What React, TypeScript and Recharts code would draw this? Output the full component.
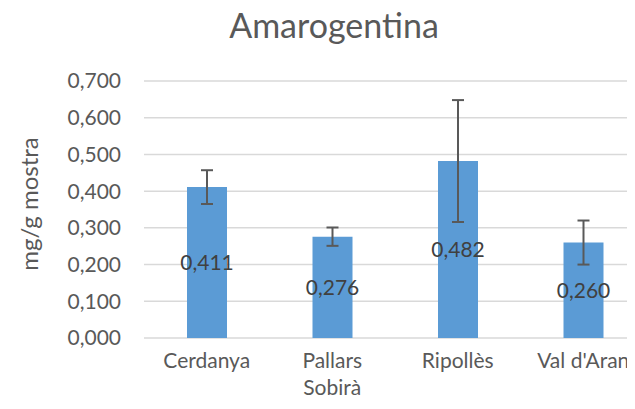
import React from 'react';
import { BarChart, Bar, XAxis, YAxis, CartesianGrid, ErrorBar, LabelList, Label } from 'recharts';

const categories = ['Cerdanya', 'Pallars Sobirà', 'Ripollès', "Val d'Aran"];
const values = [0.411, 0.276, 0.482, 0.26];
const errors = [0.046, 0.025, 0.166, 0.06];
const yTicks = [0, 0.1, 0.2, 0.3, 0.4, 0.5, 0.6, 0.7];
const title = 'Amarogentina';
const yLabel = 'mg/g mostra';

const data = categories.map((name, i) => ({ name, value: values[i], err: errors[i] }));

const FONT = 'Lato, "Open Sans", sans-serif';
const fmt = (v: number) => v.toFixed(3).replace('.', ',');

// wrap category labels that are too long for their slot (as the original does)
const wrapLabel = (s: string): string[] => {
  if (s.length <= 12) return [s];
  const i = s.lastIndexOf(' ');
  return i > 0 ? [s.slice(0, i), s.slice(i + 1)] : [s];
};

const XTick = (props: any) => {
  const { x, y, payload } = props;
  const lines = wrapLabel(String(payload.value));
  return (
    <text x={x} y={y + 30} textAnchor="middle" fill="#595959" fontSize={21} fontFamily={FONT}>
      {lines.map((l, i) => (
        <tspan key={i} x={x} dy={i === 0 ? 0 : 27}>
          {l}
        </tspan>
      ))}
    </text>
  );
};

export default function App() {
  return (
    <div style={{ position: 'relative', width: 627, height: 401 }}>
      <div
        style={{
          position: 'absolute',
          left: 126,
          top: -4,
          width: 400,
          textAlign: 'center',
          fontFamily: FONT,
          fontSize: 34,
          lineHeight: 'normal',
          color: '#595959',
          zIndex: 2,
        }}
      >
        {title}
      </div>
      <div style={{ position: 'absolute', left: 0, top: 0, width: 627, height: 401, overflow: 'hidden' }}>
        <BarChart
          width={638}
          height={401}
          data={data}
          margin={{ top: 73, right: 0, bottom: 11, left: 0 }}
          barSize={40}
        >
          <CartesianGrid vertical={false} stroke="#d9d9d9" strokeWidth={1.5} />
          <XAxis
            dataKey="name"
            axisLine={false}
            tickLine={false}
            tickSize={0}
            tickMargin={0}
            height={60}
            interval={0}
            tick={<XTick />}
          />
          <YAxis
            width={136}
            domain={[0, 0.7]}
            ticks={yTicks}
            tickFormatter={fmt}
            axisLine={false}
            tickLine={false}
            tickSize={0}
            tickMargin={23}
            tick={{ fill: '#595959', fontSize: 21, fontFamily: FONT }}
          >
            <Label
              content={() => (
                <text
                  x={20}
                  y={196}
                  transform="rotate(-90 20 196)"
                  textAnchor="middle"
                  dominantBaseline="central"
                  fill="#595959"
                  fontSize={24}
                  fontFamily={FONT}
                >
                  {yLabel}
                </text>
              )}
            />
          </YAxis>
          <Bar dataKey="value" fill="#5b9bd5" isAnimationActive={false}>
            <ErrorBar dataKey="err" stroke="#595959" strokeWidth={2} width={6} direction="y" />
            <LabelList
              dataKey="value"
              position="center"
              formatter={(v: any) => fmt(Number(v))}
              fill="#404040"
              fontSize={21}
              fontFamily={FONT}
            />
          </Bar>
        </BarChart>
      </div>
    </div>
  );
}
